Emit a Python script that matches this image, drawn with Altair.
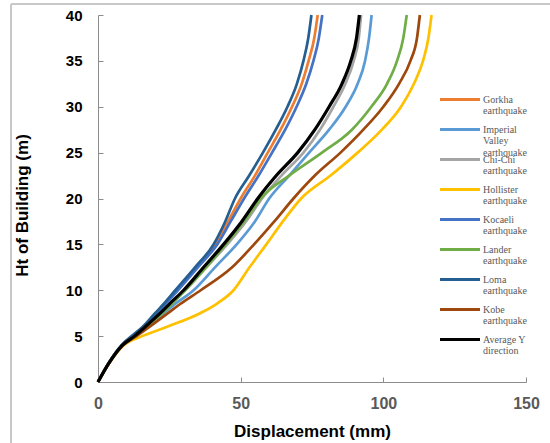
import altair as alt
import pandas as pd

# heights (m) at which the displacement profiles were read
heights = [0, 2, 4, 5, 6, 7.5, 8.5, 10, 12.5, 15, 17.5, 20, 22.5, 25, 27.5, 30, 32.5, 35, 37.5, 40]

gorkha = [0, 3.6, 8.3, 12.0, 15.9, 20.3, 23.4, 27.6, 34.5, 41.2, 45.6, 50.0, 55.0, 59.5, 64.0, 68.0, 71.4, 73.8, 75.8, 77.0]
imperial = [0, 3.7, 8.6, 12.8, 17.0, 23.0, 27.0, 33.5, 41.0, 48.6, 55.0, 60.0, 67.0, 74.0, 81.0, 86.8, 91.0, 93.6, 95.0, 95.9]
chichi = [0, 3.7, 8.5, 12.8, 16.6, 22.1, 25.5, 30.6, 38.0, 45.3, 51.9, 57.5, 64.3, 72.0, 77.8, 82.5, 86.7, 89.6, 91.4, 92.2]
hollister = [0, 3.8, 9.0, 15.5, 24.0, 35.8, 41.5, 47.5, 53.1, 59.0, 64.8, 71.2, 81.5, 91.0, 99.5, 106.2, 110.7, 113.9, 115.8, 116.9]
kocaeli = [0, 3.6, 8.3, 12.1, 16.0, 20.6, 23.7, 28.0, 35.0, 41.8, 46.5, 51.2, 56.3, 61.0, 65.6, 69.6, 73.0, 75.5, 77.4, 78.6]
lander = [0, 3.7, 8.5, 12.9, 16.8, 22.5, 25.8, 30.5, 37.8, 44.7, 51.2, 57.0, 67.0, 78.5, 89.0, 95.8, 101.3, 104.8, 107.0, 108.2]
loma = [0, 3.6, 8.2, 11.8, 15.6, 20.0, 23.0, 27.1, 34.0, 40.5, 44.6, 48.0, 53.0, 57.8, 62.3, 66.4, 69.7, 72.0, 73.7, 74.8]
kobe = [0, 3.8, 8.8, 13.5, 18.0, 24.5, 28.8, 36.0, 47.0, 54.7, 61.8, 68.5, 76.0, 85.0, 93.0, 100.0, 105.5, 109.5, 111.8, 112.8]
average_y = [0, 3.7, 8.5, 12.8, 16.5, 21.8, 25.0, 30.0, 37.0, 44.0, 50.4, 56.0, 62.5, 70.0, 76.0, 81.0, 85.5, 88.6, 90.6, 91.6]

names = ["Gorkha earthquake", "Imperial Valley earthquake", "Chi-Chi earthquake",
         "Hollister earthquake", "Kocaeli earthquake", "Lander earthquake",
         "Loma earthquake", "Kobe earthquake", "Average Y direction"]
legend_labels = ["Gorkha\nearthquake", "Imperial\nValley\nearthquake", "Chi-Chi\nearthquake",
                 "Hollister\nearthquake", "Kocaeli\nearthquake", "Lander\nearthquake",
                 "Loma\nearthquake", "Kobe\nearthquake", "Average Y\ndirection"]
colors = ["#ED7D31", "#5B9BD5", "#A5A5A5", "#FFC000", "#4472C4", "#70AD47",
          "#255E91", "#9E480E", "#000000"]

x_ticks = [0, 50, 100, 150]
y_ticks = [0, 5, 10, 15, 20, 25, 30, 35, 40]

series_values = [gorkha, imperial, chichi, hollister, kocaeli, lander, loma, kobe, average_y]
rows = []
for name, vals in zip(names, series_values):
    for h, d in zip(heights, vals):
        rows.append({"series": name, "ht": h, "disp": d})
df = pd.DataFrame(rows)
leg_df = pd.DataFrame({"series": names, "label": legend_labels})

color_scale = alt.Scale(domain=names, range=colors)

x_enc = alt.X("disp:Q", scale=alt.Scale(domain=[0, 150], nice=False),
              axis=alt.Axis(values=x_ticks, title="Displacement (mm)", tickSize={"expr": "-5"},
                            labelPadding=18, labelColor="#595959", labelFontSize=16,
                            labelFontWeight="bold", titleFontSize=17, titleFontWeight="bold",
                            titleColor="#000000", titleBaseline="alphabetic", titleY=54,
                            labelFlush=False))
y_enc = alt.Y("ht:Q", scale=alt.Scale(domain=[0, 40], nice=False),
              axis=alt.Axis(values=y_ticks, title="Ht of Building (m)", tickSize={"expr": "-5"},
                            labelPadding=21, labelColor="#000000", labelFontSize=15,
                            labelFontWeight="bold", titleFontSize=17, titleFontWeight="bold",
                            titleColor="#000000", titleX=-67, titleY=190, labelFlush=False))

lines = alt.Chart(df).transform_filter(alt.datum.series != "Average Y direction").mark_line(
    strokeWidth=2.7, interpolate="monotone").encode(
    x=x_enc, y=y_enc,
    color=alt.Color("series:N", scale=color_scale, legend=None),
    order="ht:Q")
avg = alt.Chart(df).transform_filter(alt.datum.series == "Average Y direction").mark_line(
    strokeWidth=3.2, interpolate="monotone").encode(
    x=x_enc, y=y_enc,
    color=alt.Color("series:N", scale=color_scale, legend=None),
    order="ht:Q")

main = alt.layer(lines, avg)

leg_y = alt.Y("series:N", scale=alt.Scale(type="point", domain=names, range=[84.5, 324.5], padding=0),
              axis=None)
leg_rules = alt.Chart(leg_df).mark_rule(strokeWidth=3).encode(
    x=alt.value(342), x2=alt.value(382), y=leg_y,
    color=alt.Color("series:N", scale=color_scale, legend=None))
leg_text = alt.Chart(leg_df).mark_text(
    align="left", baseline="top", dy=-5, lineBreak="\n", font="Liberation Serif",
    fontSize=10, lineHeight=11.7, color="#595959").encode(
    x=alt.value(385), y=leg_y, text="label:N")
legend = alt.layer(leg_rules, leg_text)

frame_top = alt.Chart(leg_df).mark_rule(color="#C8C8C8", strokeWidth=1).encode(
    x=alt.value(-87), x2=alt.value(460), y=alt.value(-11))
frame_left = alt.Chart(leg_df).mark_rule(color="#C8C8C8", strokeWidth=1).encode(
    x=alt.value(-87), y=alt.value(-11), y2=alt.value(440))

chart = alt.layer(main, legend, frame_top, frame_left).resolve_scale(y="independent").properties(
    width=428, height=367,
    padding={"left": 98, "top": 15, "right": 24, "bottom": 61},
    autosize=alt.AutoSizeParams(type="none"),
    background="white",
).configure_view(stroke=None).configure_axis(
    grid=False, domainColor="#8C8C8C", tickColor="#8C8C8C",
    labelFont="Liberation Sans", titleFont="Liberation Sans")

chart.save("out.html", embed_options={"renderer": "svg", "actions": False})
